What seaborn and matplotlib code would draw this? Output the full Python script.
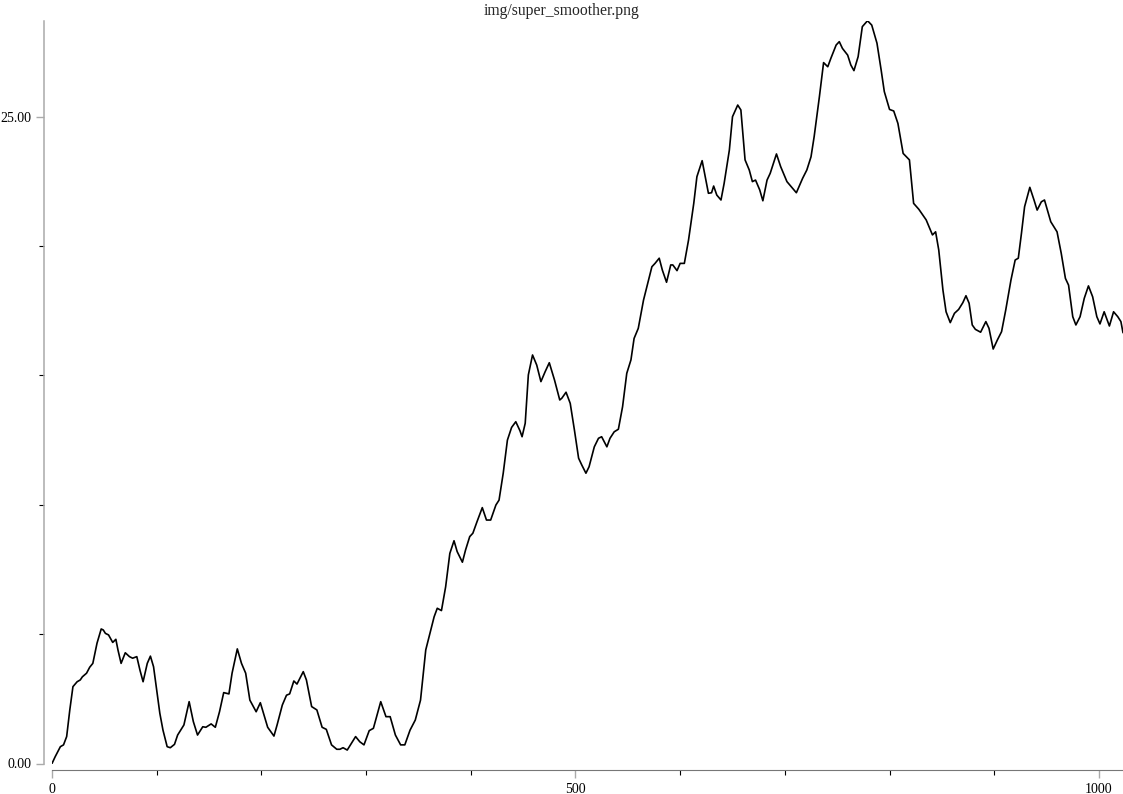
import numpy as np
import pandas as pd
import matplotlib
matplotlib.use("Agg")
import matplotlib.pyplot as plt
import seaborn as sns
from matplotlib.ticker import FixedLocator, MultipleLocator, FormatStrFormatter

# values (step index, smoothed value)
steps = [0, 3, 8, 11, 14, 17, 20, 24, 27, 29, 33, 36, 39, 43, 47, 49, 51, 54, 58, 61,
         63, 66, 70, 74, 77, 81, 84, 87, 91, 94, 97, 100, 103, 106, 110, 113, 117, 120, 126, 131,
         135, 139, 144, 147, 152, 156, 160, 164, 169, 172, 177, 181, 185, 189, 195, 199, 202, 206, 212, 215,
         220, 224, 227, 231, 234, 240, 243, 248, 253, 258, 262, 267, 272, 275, 278, 282, 286, 290, 294, 298,
         303, 307, 314, 319, 323, 328, 333, 337, 342, 347, 352, 357, 361, 365, 368, 372, 376, 380, 384, 387,
         392, 395, 399, 402, 406, 411, 415, 419, 424, 427, 431, 435, 439, 443, 447, 449, 452, 455, 459, 463,
         467, 471, 475, 480, 485, 487, 491, 495, 499, 503, 506, 510, 513, 518, 522, 525, 530, 533, 537, 541,
         545, 549, 553, 556, 560, 565, 569, 573, 576, 580, 583, 587, 591, 593, 597, 600, 604, 608, 613, 616,
         621, 624, 627, 630, 632, 635, 639, 642, 647, 650, 655, 658, 662, 666, 669, 672, 676, 679, 683, 686,
         692, 696, 702, 711, 717, 721, 725, 728, 733, 737, 741, 744, 749, 752, 755, 760, 763, 766, 770, 774,
         779, 783, 788, 792, 795, 800, 804, 808, 813, 819, 823, 828, 835, 841, 844, 847, 851, 854, 858, 862,
         866, 870, 873, 876, 879, 882, 887, 892, 895, 899, 903, 907, 911, 916, 920, 923, 926, 929, 934, 938,
         941, 945, 948, 954, 960, 964, 968, 971, 975, 978, 982, 986, 990, 994, 998, 1001, 1005, 1010, 1014, 1018,
         1021, 1023]
smoothed = [0.00, 0.26, 0.65, 0.72, 1.04, 2.07, 2.97, 3.16, 3.23, 3.35, 3.49, 3.72, 3.87, 4.65, 5.20, 5.16, 5.03, 4.97, 4.68, 4.80,
            4.39, 3.87, 4.28, 4.13, 4.07, 4.13, 3.61, 3.16, 3.87, 4.15, 3.74, 2.84, 1.94, 1.29, 0.65, 0.61, 0.74, 1.10, 1.49, 2.39,
            1.62, 1.10, 1.42, 1.40, 1.53, 1.40, 2.00, 2.74, 2.69, 3.49, 4.43, 3.87, 3.49, 2.45, 2.00, 2.35, 1.94, 1.40, 1.06, 1.49,
            2.26, 2.64, 2.69, 3.19, 3.07, 3.55, 3.23, 2.20, 2.07, 1.40, 1.32, 0.72, 0.55, 0.55, 0.61, 0.52, 0.78, 1.04, 0.84, 0.72,
            1.27, 1.36, 2.39, 1.81, 1.81, 1.10, 0.72, 0.72, 1.29, 1.68, 2.45, 4.39, 5.03, 5.67, 6.00, 5.91, 6.83, 8.12, 8.61, 8.19,
            7.78, 8.25, 8.77, 8.90, 9.35, 9.89, 9.41, 9.41, 9.99, 10.18, 11.22, 12.50, 12.99, 13.21, 12.86, 12.63, 13.15, 15.02, 15.79, 15.40,
            14.76, 15.14, 15.49, 14.82, 14.05, 14.12, 14.35, 13.92, 12.89, 11.80, 11.54, 11.22, 11.47, 12.24, 12.57, 12.63, 12.24, 12.57, 12.82, 12.92,
            13.79, 15.08, 15.60, 16.43, 16.82, 17.91, 18.56, 19.20, 19.33, 19.53, 19.07, 18.60, 19.27, 19.27, 19.05, 19.33, 19.33, 20.23, 21.65, 22.68,
            23.30, 22.68, 22.04, 22.06, 22.32, 21.97, 21.78, 22.42, 23.71, 25.00, 25.45, 25.26, 23.33, 22.94, 22.49, 22.55, 22.17, 21.75, 22.55, 22.81,
            23.56, 23.07, 22.49, 22.06, 22.62, 22.94, 23.45, 24.23, 25.77, 27.09, 26.93, 27.26, 27.77, 27.90, 27.64, 27.38, 27.00, 26.78, 27.32, 28.48,
            28.71, 28.54, 27.84, 26.80, 25.97, 25.28, 25.22, 24.74, 23.58, 23.33, 21.65, 21.42, 21.01, 20.43, 20.55, 19.85, 18.30, 17.46, 17.04, 17.40,
            17.55, 17.81, 18.08, 17.79, 16.95, 16.78, 16.67, 17.08, 16.82, 16.02, 16.37, 16.69, 17.53, 18.69, 19.46, 19.53, 20.49, 21.52, 22.27, 21.78,
            21.39, 21.71, 21.78, 20.94, 20.55, 19.72, 18.75, 18.49, 17.27, 16.95, 17.27, 17.98, 18.46, 18.04, 17.27, 16.99, 17.46, 16.91, 17.46, 17.27,
            17.08, 16.65]

title = "img/super_smoother.png"
x_major = [0, 500, 1000]
x_minor = [100, 200, 300, 400, 600, 700, 800, 900]
y_major = [0, 25]

df = pd.DataFrame({"step": steps, "value": smoothed})

sns.set_style("white")
plt.rcParams["font.family"] = ["Liberation Serif", "DejaVu Serif"]

fig = plt.figure(figsize=(11.23, 7.94), dpi=100)
ax = fig.add_axes([52 / 1123, 30.5 / 794, 1071 / 1123, 742.8 / 794])

sns.lineplot(data=df, x="step", y="value", color="black", linewidth=1.2, ax=ax)

ax.set_xlim(0, max(steps))
ax.set_ylim(0, max(smoothed))
ax.set_xlabel("")
ax.set_ylabel("")

ax.spines["top"].set_visible(False)
ax.spines["right"].set_visible(False)
ax.spines["left"].set_position(("outward", 5.8))
ax.spines["bottom"].set_position(("outward", 4.7))
ax.spines["left"].set_color("#aaaaaa")
ax.spines["left"].set_linewidth(1.1)
ax.spines["bottom"].set_color("#777777")
ax.spines["bottom"].set_linewidth(0.8)

ax.xaxis.set_major_locator(FixedLocator(x_major))
ax.xaxis.set_minor_locator(FixedLocator(x_minor))
ax.yaxis.set_major_locator(FixedLocator(y_major))
ax.yaxis.set_minor_locator(MultipleLocator(5))
ax.yaxis.set_major_formatter(FormatStrFormatter("%.2f"))

ax.tick_params(axis="both", which="major", direction="out", length=6, width=1.0,
               color="#aaaaaa", labelsize=10, labelcolor="black", pad=3)
ax.tick_params(axis="both", which="minor", direction="out", length=3.5, width=0.8,
               color="black")
ax.tick_params(axis="y", which="both", left=True)
ax.tick_params(axis="x", which="both", bottom=True)

fig.text(0.5, 1 - 11 / 794, title, ha="center", va="center", fontsize=11.3)

fig.savefig("out.png", dpi=100)
